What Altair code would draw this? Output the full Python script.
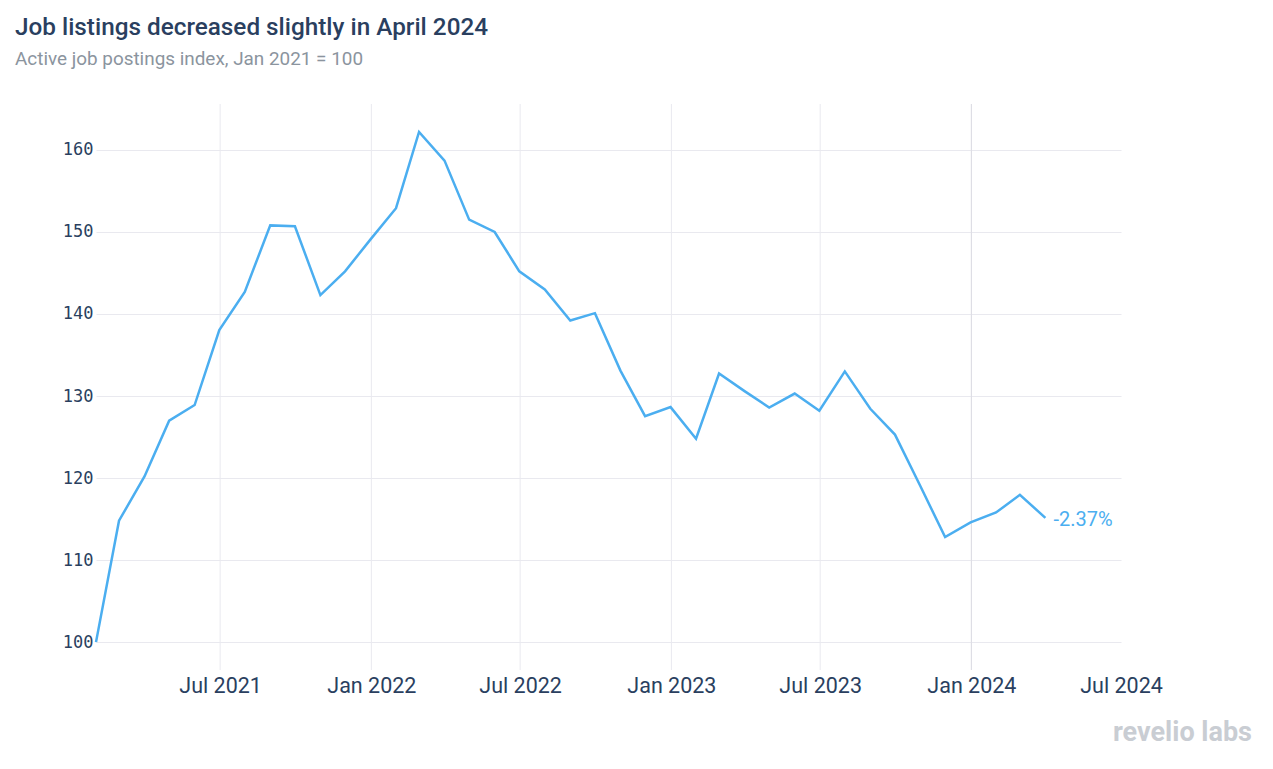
import altair as alt
import pandas as pd

months = [
    "2021-01-31", "2021-02-28", "2021-03-31", "2021-04-30", "2021-05-31", "2021-06-30",
    "2021-07-31", "2021-08-31", "2021-09-30", "2021-10-31", "2021-11-30", "2021-12-31",
    "2022-01-31", "2022-02-28", "2022-03-31", "2022-04-30", "2022-05-31", "2022-06-30",
    "2022-07-31", "2022-08-31", "2022-09-30", "2022-10-31", "2022-11-30", "2022-12-31",
    "2023-01-31", "2023-02-28", "2023-03-31", "2023-04-30", "2023-05-31", "2023-06-30",
    "2023-07-31", "2023-08-31", "2023-09-30", "2023-10-31", "2023-11-30", "2023-12-31",
    "2024-01-31", "2024-02-29", "2024-03-31",
]
index_values = [
    100.0, 114.8, 120.2, 127.0, 128.9, 138.05,
    142.7, 150.8, 150.7, 142.3, 145.2, 149.1,
    152.9, 162.2, 158.7, 151.5, 150.0, 145.2,
    143.0, 139.2, 140.1, 133.1, 127.55, 128.65,
    124.8, 132.75, 130.6, 128.6, 130.3, 128.2,
    133.0, 128.45, 125.3, 119.0, 112.8, 114.6,
    115.8, 117.95, 115.15,
]
last_label = "-2.37%"
y_ticks = [100, 110, 120, 130, 140, 150, 160]
x_tick_dates = [(2021, 7), (2022, 1), (2022, 7), (2023, 1), (2023, 7), (2024, 1), (2024, 7)]
grid_dates = ["2021-07-01", "2022-01-01", "2022-07-01", "2023-01-01", "2023-07-01"]
highlight_date = ["2024-01-01"]

df = pd.DataFrame({"date": months, "value": index_values})
df["label"] = ""
df.loc[df.index[-1], "label"] = last_label

LINE = "#4baef0"
NAVY = "#2a3f5f"
GRID = "#e9e9ef"

x_domain = [alt.DateTime(year=2021, month=1, date=31, utc=True),
            alt.DateTime(year=2024, month=7, date=1, utc=True)]
x_vals = [alt.DateTime(year=y, month=m, date=1, utc=True) for y, m in x_tick_dates]

x_enc = alt.X(
    "date:T",
    scale=alt.Scale(type="utc", domain=x_domain),
    axis=alt.Axis(
        values=x_vals, format="%b %Y", title=None, domain=False, ticks=False,
        labelFont="Roboto", labelFontSize=21.5, labelColor=NAVY, labelPadding=5,
        grid=False, labelOverlap=False, labelFlush=False, labelBound=False,
    ),
)
y_enc = alt.Y(
    "value:Q",
    scale=alt.Scale(domain=[96.6, 165.6], nice=False, zero=False),
    axis=alt.Axis(
        values=y_ticks, title=None, domain=False, ticks=False,
        labelFont="DejaVu Sans Mono", labelFontSize=17, labelColor=NAVY, labelPadding=3,
        grid=True, gridColor=GRID, labelFlush=False,
    ),
)

base = alt.Chart(df)

vgrid = alt.Chart(pd.DataFrame({"d": grid_dates})).mark_rule(
    color=GRID, strokeWidth=1
).encode(x="d:T")

jan_rule = alt.Chart(pd.DataFrame({"d": highlight_date})).mark_rule(
    color="#dedee5", strokeWidth=1.2
).encode(x="d:T")

line = base.mark_line(color=LINE, strokeWidth=2.5).encode(x=x_enc, y=y_enc)

label = base.transform_filter(alt.datum.label != "").mark_text(
    align="left", baseline="middle", dx=8, dy=2, font="Roboto", fontSize=20, color=LINE
).encode(x="date:T", y="value:Q", text="label:N")

watermark = alt.Chart(pd.DataFrame({"t": ["revelio labs"]})).mark_text(
    align="right", baseline="middle", font="Roboto", fontSize=27, fontWeight="bold",
    color="#c9cdd3",
).encode(x=alt.value(1156), y=alt.value(629), text="t:N")

chart = alt.layer(vgrid, jan_rule, line, label, watermark).properties(
    width=1025,
    height=566,
    background="white",
    title=alt.TitleParams(
        text="Job listings decreased slightly in April 2024",
        subtitle="Active job postings index, Jan 2021 = 100",
        anchor="start",
        frame="group",
        dx=-81,
        offset=35,
        font="Roboto",
        fontSize=24.3,
        fontWeight=500,
        color=NAVY,
        subtitleFont="Roboto",
        subtitleFontSize=18.9,
        subtitleColor="#8b949e",
        subtitlePadding=9,
    ),
    autosize=alt.AutoSizeParams(type="none"),
    padding={"left": 88, "top": 96, "right": 140, "bottom": 90},
).configure_view(strokeWidth=0, stroke="transparent")

chart.save("out.html", embed_options={"renderer": "svg", "actions": False})
